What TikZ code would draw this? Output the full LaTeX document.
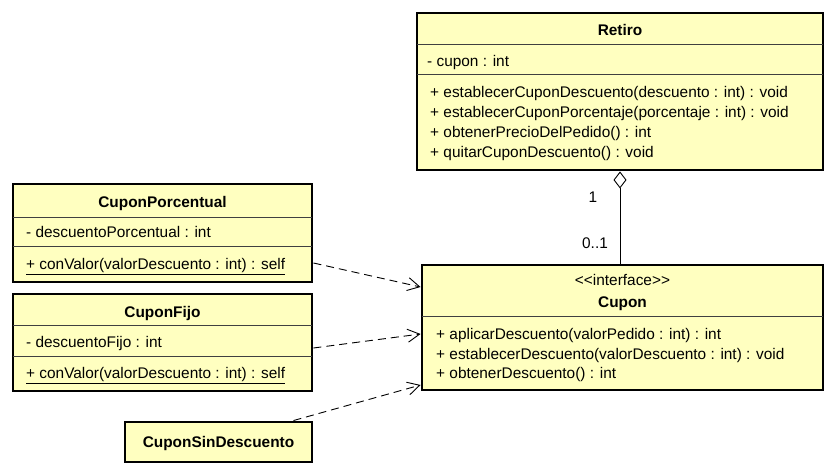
\documentclass[tikz,border=0pt]{standalone}
\usepackage{fontspec}
\setmainfont{Liberation Sans}
\usetikzlibrary{arrows.meta}
\definecolor{umlfill}{HTML}{FFFFC0}
\begin{document}
\begin{tikzpicture}[x=1bp,y=-1bp,
  classbox/.style={draw=black, line width=2.9bp, fill=umlfill, inner sep=0pt},
  sepline/.style={line width=0.8bp, draw=black!75},
  txt/.style={anchor=mid west, inner sep=0pt, yshift=-3bp, font=\fontsize{15.4bp}{18bp}\selectfont},
  ctxt/.style={anchor=mid, inner sep=0pt, yshift=-3bp, font=\fontsize{15.4bp}{18bp}\selectfont},
  ttl/.style={anchor=mid, inner sep=0pt, yshift=-3bp, font=\fontsize{15.4bp}{18bp}\selectfont\bfseries},
  realize/.style={line width=0.9bp, dash pattern=on 8bp off 5bp, -{Straight Barb[length=12bp,width=13bp,line width=0.9bp]}},
  aggr/.style={line width=0.9bp, {Diamond[open,length=17bp,width=13bp,line width=0.9bp]}-}
]
\fill[white] (0,0) rectangle (836,476);
\useasboundingbox (0,0) rectangle (836,476);

% Retiro
\node[classbox, minimum width=406bp, minimum height=157bp] (retiro) at (620,91.5) {};
\draw[sepline] (417,44) -- (823,44);
\draw[sepline] (417,74) -- (823,74);
\node[ttl] (retiroT) at (620,30) {Retiro};
\node[txt] (retiroA) at (427,61) {- cupon : int};
\node[txt] (retiroM1) at (430,91.5) {+ establecerCuponDescuento(descuento : int) : void};
\node[txt] (retiroM2) at (430,111.5) {+ establecerCuponPorcentaje(porcentaje : int) : void};
\node[txt] (retiroM3) at (430,131.5) {+ obtenerPrecioDelPedido() : int};
\node[txt] (retiroM4) at (430,151.5) {+ quitarCuponDescuento() : void};

% Cupon
\node[classbox, minimum width=401bp, minimum height=125bp] (cupon) at (622.5,327.5) {};
\draw[sepline] (422,316) -- (823,316);
\node[ctxt] (cuponS) at (622.5,280) {<{}<interface>{}>};
\node[ttl] (cuponT) at (622.5,302) {Cupon};
\node[txt] (cuponM1) at (436,333.5) {+ aplicarDescuento(valorPedido : int) : int};
\node[txt] (cuponM2) at (436,353.5) {+ establecerDescuento(valorDescuento : int) : void};
\node[txt] (cuponM3) at (436,373) {+ obtenerDescuento() : int};

% CuponPorcentual
\node[classbox, minimum width=299bp, minimum height=98bp] (cp) at (162.5,233) {};
\draw[sepline] (13,217) -- (312,217);
\draw[sepline] (13,246) -- (312,246);
\node[ttl] (cpT) at (162.5,202) {CuponPorcentual};
\node[txt] (cpA) at (26,232) {- descuentoPorcentual : int};
\node[txt] (cpM) at (26,263.5) {\underline{+ conValor(valorDescuento : int) : self}};

% CuponFijo
\node[classbox, minimum width=299bp, minimum height=97bp] (cf) at (162.5,342.5) {};
\draw[sepline] (13,325) -- (312,325);
\draw[sepline] (13,356) -- (312,356);
\node[ttl] (cfT) at (162.5,311.5) {CuponFijo};
\node[txt] (cfA) at (26,341.5) {- descuentoFijo : int};
\node[txt] (cfM) at (26,373) {\underline{+ conValor(valorDescuento : int) : self}};

% CuponSinDescuento
\node[classbox, minimum width=187bp, minimum height=40bp] (csd) at (218.5,442) {};
\node[ttl] (csdT) at (218.5,442) {CuponSinDescuento};

% Aggregation
\draw[aggr] (retiro.south -| 620,0) -- (cupon.north -| 620,0);
\node[ctxt] (m1) at (593,197) {1};
\node[ctxt] (m2) at (595,243) {0..1};

% Realizations
\draw[realize] ([yshift=-30bp]cp.east) -- ([yshift=40.5bp]cupon.west);
\draw[realize] ([yshift=-5.5bp]cf.east) -- ([yshift=-6.5bp]cupon.west);
\draw[realize] ([xshift=-20bp]csd.north east) -- ([yshift=-57.5bp]cupon.west);
\end{tikzpicture}
\end{document}
